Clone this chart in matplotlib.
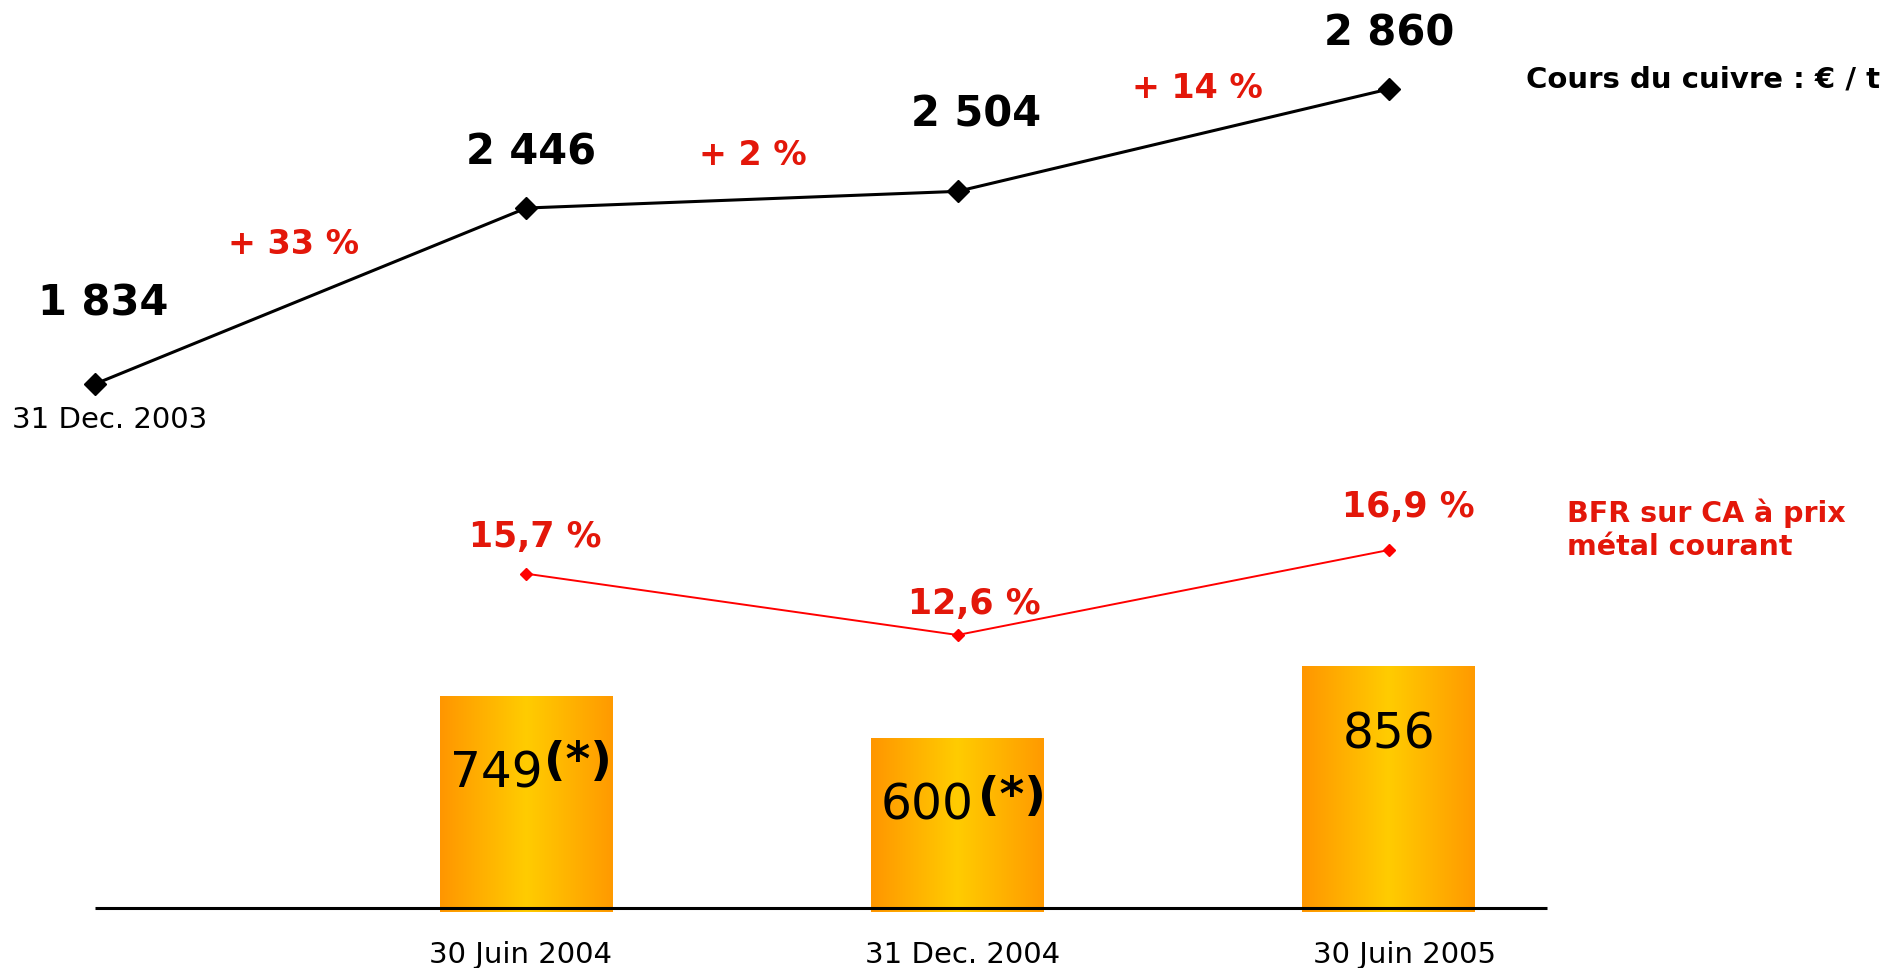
import matplotlib.pyplot as plt
import numpy as np
from matplotlib.colors import LinearSegmentedColormap

plt.rcParams['font.family'] = ['DejaVu Sans']

# donnees cours du cuivre (EUR / t)
dates_cuivre = ["31 Dec. 2003", "30 Juin 2004", "31 Dec. 2004", "30 Juin 2005"]
cours = [1834, 2446, 2504, 2860]

# BFR (barres) et BFR sur CA
dates_bfr = ["30 Juin 2004", "31 Dec. 2004", "30 Juin 2005"]
bfr = [749, 600, 856]
bfr_etoile = ["(*)", "(*)", ""]
bfr_ca = [15.7, 12.6, 16.9]

rouge = '#E3170A'
W, H = 1883, 968

fig = plt.figure(figsize=(W / 100, H / 100), dpi=100)
ax1 = fig.add_axes([0, 0, 1, 1])
ax2 = fig.add_axes([0, 0, 1, 1], sharex=ax1)
ax3 = fig.add_axes([0, 0, 1, 1], sharex=ax1)
for a in (ax1, ax2, ax3):
    a.set_axis_off()
    a.patch.set_alpha(0)

# echelle x : 431.3 px par point
px = 431.3
ax1.set_xlim(-95 / px, (W - 95) / px)

# echelles y
ky1 = 295 / 1026.0
ax1.set_ylim(1834 - 584 / ky1, 1834 + (H - 584) / ky1)
ky2 = 0.2825
ax2.set_ylim(-60 / ky2, (H - 60) / ky2)
ky3 = 19.77
ax3.set_ylim(12.6 - 333 / ky3, 12.6 + (H - 333) / ky3)

# --- cours du cuivre
x1 = np.arange(len(cours))
ax1.plot(x1, cours, color='black', lw=2.2, marker='D', ms=11, zorder=3)

decal = [(8, 68), (5, 44), (18, 65), (0, 43)]
for i, v in enumerate(cours):
    ax1.annotate(f"{v:,}".replace(",", " "), (x1[i], v), xytext=decal[i],
                 textcoords='offset pixels', ha='center', va='baseline',
                 fontsize=30, fontweight='bold', color='black')

ax1.annotate(dates_cuivre[0], (x1[0], cours[0]), xytext=(15, -44),
             textcoords='offset pixels', ha='center', va='baseline', fontsize=21)

# evolutions entre deux dates
ev_pos = [(294, 254), (753, 165), (1197, 98)]
for i in range(1, len(cours)):
    pct = round((cours[i] / cours[i - 1] - 1) * 100)
    ax1.text(ev_pos[i - 1][0] / W, 1 - ev_pos[i - 1][1] / H, f"+ {pct} %",
             transform=fig.transFigure, ha='center', va='baseline',
             fontsize=24, fontweight='bold', color=rouge)

fig.text(1526 / W, 1 - 87 / H, "Cours du cuivre : € / t", ha='left', va='baseline',
         fontsize=21, fontweight='bold', color='black')

# --- barres BFR avec degrade
cmap = LinearSegmentedColormap.from_list('or', ['#FF9600', '#FFCC00', '#FF9A00'])
grad = np.linspace(0, 1, 256).reshape(1, -1)
x2 = np.arange(1, len(bfr) + 1)
larg = 173 / px
dy_val = [-91, -81, -82]
dx_val = [16, 16, 0]
dy_et = [-79, -71]
dx_et = [18, 20]
dx_date = [-6, 5, 16]
for i, v in enumerate(bfr):
    ax2.imshow(grad, cmap=cmap, aspect='auto', interpolation='bicubic',
               extent=[x2[i] - larg / 2, x2[i] + larg / 2, -14, v], zorder=1)
    if bfr_etoile[i]:
        ax2.annotate(str(v), (x2[i], v), xytext=(dx_val[i], dy_val[i]),
                     textcoords='offset pixels', ha='right', va='baseline',
                     fontsize=35, color='black', zorder=5)
        ax2.annotate(bfr_etoile[i], (x2[i], v), xytext=(dx_et[i], dy_et[i]),
                     textcoords='offset pixels', ha='left', va='baseline',
                     fontsize=34, fontweight='bold', color='black', zorder=5)
    else:
        ax2.annotate(str(v), (x2[i], v), xytext=(dx_val[i], dy_val[i]),
                     textcoords='offset pixels', ha='center', va='baseline',
                     fontsize=35, color='black', zorder=5)
    ax2.annotate(dates_bfr[i], (x2[i], 0), xytext=(dx_date[i], -55),
                 textcoords='offset pixels', ha='center', va='baseline', fontsize=21)

ax2.hlines(0, 0, (1547 - 95) / px, color='black', lw=2.2, zorder=2)

# --- BFR sur CA
ax3.plot(x2, bfr_ca, color='red', lw=1.4, marker='D', ms=6, zorder=3)
decal3 = [(9, 27), (17, 21), (19, 33)]
for i, v in enumerate(bfr_ca):
    ax3.annotate(f"{v:.1f} %".replace(".", ","), (x2[i], v), xytext=decal3[i],
                 textcoords='offset pixels', ha='center', va='baseline',
                 fontsize=25, fontweight='bold', color=rouge)

fig.text(1567 / W, 1 - 555 / H, "BFR sur CA à prix\nmétal courant", ha='left', va='baseline',
         fontsize=20.5, fontweight='bold', color=rouge, linespacing=1.25)

fig.savefig('out.png', dpi=100)
